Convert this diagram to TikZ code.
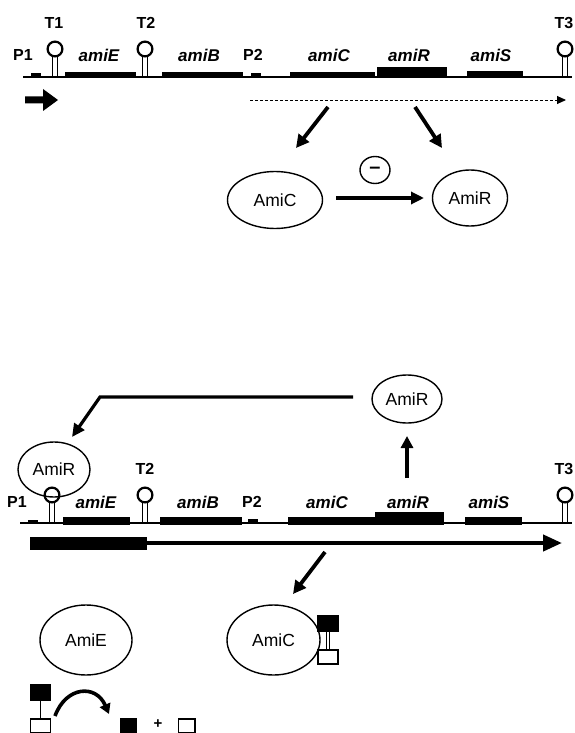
\documentclass[tikz,border=0pt]{standalone}
\usepackage{fontspec}
\setmainfont{Liberation Sans}
\usetikzlibrary{shapes.geometric,arrows.meta}
\begin{document}
\begin{tikzpicture}[x=1pt,y=-1pt,
  dna/.style={line width=2.8pt},
  lab/.style={font=\bfseries\fontsize{16}{16}\selectfont, inner sep=0},
  glab/.style={font=\bfseries\itshape\fontsize{17}{17}\selectfont, inner sep=0},
  prot/.style={ellipse, draw, line width=1.4pt, inner sep=0, font=\fontsize{17.5}{17.5}\selectfont},
  bigarr/.style={line width=3.8pt, -{Triangle[length=13pt,width=13pt]}},
  hairpin/.pic={
    \draw[line width=1.5pt] (-2.4,0) -- (-2.4,-20.5) (2.4,0) -- (2.4,-20.5);
    \draw[line width=2.2pt, fill=white] (0,-28) circle [radius=7.4pt];
  },
  sq/.style={draw, line width=1.3pt}
]
\useasboundingbox (0,0) rectangle (574,733);

% ---------------- top operon ----------------
\draw[dna] (23,77) -- (572,77);
\fill (31,73) rectangle (41,78);
\fill (65,72) rectangle (136,78.5);
\fill (162,72) rectangle (243,78.5);
\fill (251,73.5) rectangle (261,78);
\fill (290,72) rectangle (375,78.5);
\fill (377,67.5) rectangle (447,78.5);
\fill (467,71.5) rectangle (523,78.5);
\pic at (55,77) {hairpin};
\pic at (145,77) {hairpin};
\pic at (565,77) {hairpin};

\node[lab] (p1a) at (23,55) {P1};
\node[lab] (t1a) at (54,23) {T1};
\node[glab] (amiEa) at (99,55) {amiE};
\node[lab] (t2a) at (146,23) {T2};
\node[glab] (amiBa) at (199,55) {amiB};
\node[lab] (p2a) at (253,55) {P2};
\node[glab] (amiCa) at (329,55) {amiC};
\node[glab] (amiRa) at (409,55) {amiR};
\node[glab] (amiSa) at (491,55) {amiS};
\node[lab] (t3a) at (564,23) {T3};

\fill (25,96.5) -- (43,96.5) -- (43,89) -- (58,100) -- (43,111) -- (43,103.5) -- (25,103.5) -- cycle;

\coordinate (dS) at (250,100);
\coordinate (dE) at (566,100);
\draw[dash pattern=on 3pt off 2pt, line width=0.9pt, -{Triangle[length=9pt,width=8pt]}] (dS) -- (dE);

\node[prot, minimum width=95, minimum height=57] (AmiC1) at (275,200) {AmiC};
\node[prot, minimum width=75, minimum height=56] (AmiR1) at (470,198) {AmiR};
\node[ellipse, draw, line width=1.4pt, minimum width=30, minimum height=27, inner sep=0,
      font=\bfseries\fontsize{20}{20}\selectfont] (minus) at (375,170) {--};

\coordinate (a1s) at (328,107);
\coordinate (a1e) at (296,148);
\coordinate (a2s) at (415,107);
\coordinate (a2e) at (442,148);
\draw[bigarr] (a1s) -- (a1e);
\draw[bigarr] (a2s) -- (a2e);
\coordinate (cr1) at (336,198);
\coordinate (cr2) at (424,198);
\draw[line width=3.2pt, -{Triangle[length=13pt,width=12pt]}] (cr1) -- (cr2);

% ---------------- bottom operon ----------------
\draw[dna] (20,523) -- (572,523);
\fill (28,519.5) rectangle (38,524);
\fill (63,516.5) rectangle (130,524.5);
\fill (160,516.5) rectangle (242,524.5);
\fill (248,519) rectangle (258,524);
\fill (288,516.5) rectangle (375,524.5);
\fill (375,512) rectangle (444,524.5);
\fill (465,516.5) rectangle (522,524.5);
\pic at (52,523) {hairpin};
\pic at (145,523) {hairpin};
\pic at (565,523) {hairpin};

\node[prot, minimum width=72, minimum height=55] (AmiRb) at (54,469.5) {AmiR};
\node[lab] (p1b) at (17,502) {P1};
\node[glab] (amiEb) at (96,502) {amiE};
\node[lab] (t2b) at (145,469) {T2};
\node[glab] (amiBb) at (198,502) {amiB};
\node[lab] (p2b) at (252,502) {P2};
\node[glab] (amiCb) at (327,502) {amiC};
\node[glab] (amiRb) at (408,502) {amiR};
\node[glab] (amiSb) at (489,502) {amiS};
\node[lab] (t3b) at (564,469) {T3};

\fill (30,537) rectangle (147,550);
\coordinate (tS) at (140,543);
\coordinate (tE) at (562,543);
\draw[line width=4.2pt, -{Triangle[length=19pt,width=16pt]}] (tS) -- (tE);

\node[prot, minimum width=70, minimum height=48] (AmiRtop) at (407,399) {AmiR};
\coordinate (upS) at (407,478);
\coordinate (upE) at (407,436);
\draw[line width=3.4pt, -{Triangle[length=12pt,width=12pt]}] (upS) -- (upE);
\coordinate (lS) at (353,397);
\coordinate (lC) at (100,397);
\coordinate (lE) at (72,437);
\draw[line width=3.2pt, -{Triangle[length=13pt,width=12pt]}] (lS) -- (lC) -- (lE);

\coordinate (dnS) at (325,552);
\coordinate (dnE) at (293,594);
\draw[bigarr] (dnS) -- (dnE);

\node[prot, minimum width=92, minimum height=70] (AmiE) at (86,640) {AmiE};
\node[prot, minimum width=93, minimum height=70] (AmiC2) at (273.5,640) {AmiC};

% substrate bound to AmiC
\fill[draw, line width=1.3pt] (318,616) rectangle (338,631);
\draw[line width=1.1pt] (326.3,631) -- (326.3,650) (329.7,631) -- (329.7,650);
\draw[sq, fill=white] (318,650) rectangle (338,664);

% substrate hydrolysis
\fill[draw, line width=1.3pt] (30.5,685) rectangle (50.5,700);
\draw[line width=1.4pt] (40.5,700) -- (40.5,719);
\draw[sq] (30.5,719) rectangle (50.5,732.3);
\coordinate (hS) at (55,716);
\coordinate (hE) at (109,714);
\draw[line width=3.6pt, -{Triangle[length=10pt,width=11pt]}] (hS) .. controls (66,686) and (96,684) .. (hE);
\fill[draw, line width=1.3pt] (120.5,719) rectangle (136,732.3);
\node[font=\bfseries\fontsize{15}{15}\selectfont, inner sep=0] (plus) at (158,724) {+};
\draw[sq] (178.5,719) rectangle (195,732.3);
\end{tikzpicture}
\end{document}
